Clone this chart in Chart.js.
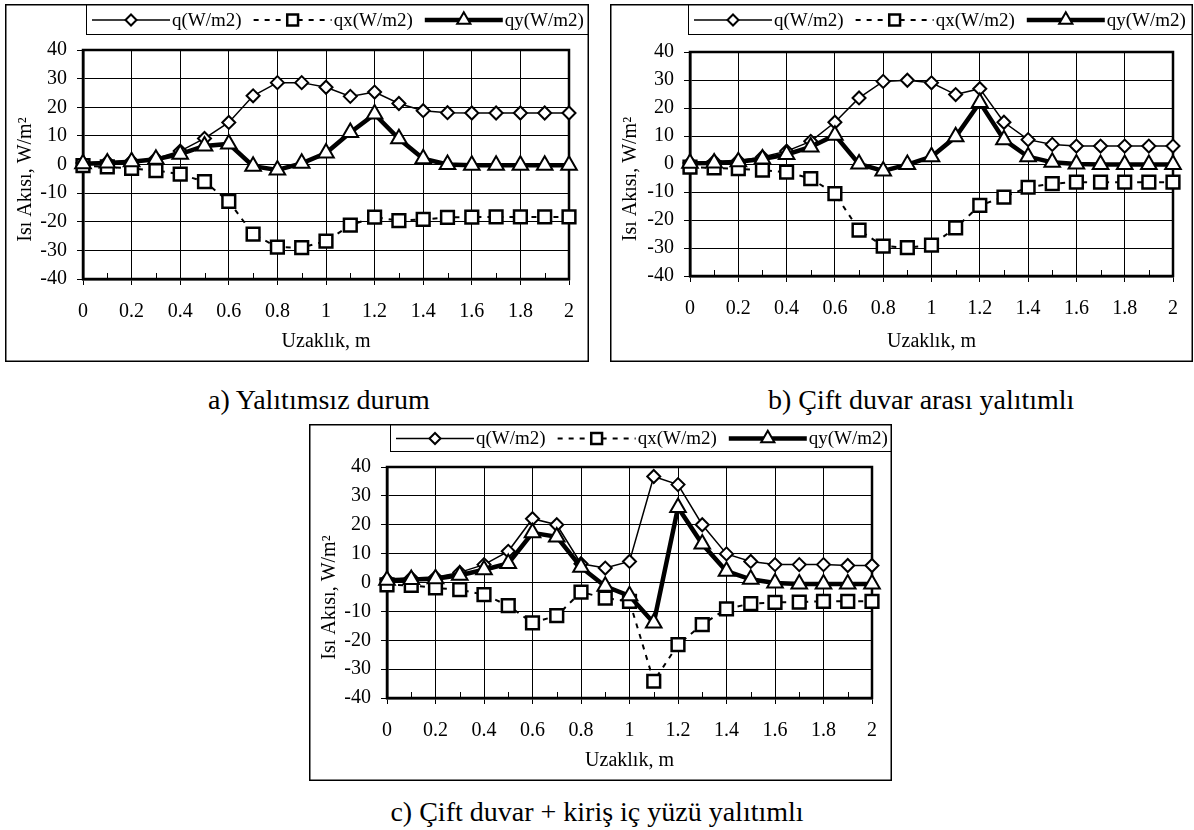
<!DOCTYPE html>
<html>
<head>
<meta charset="utf-8">
<script src="https://cdn.jsdelivr.net/npm/chart.js@4.4.1/dist/chart.umd.min.js"></script>
<style>
  body { margin: 0; width: 1194px; height: 830px; background: #fff; position: relative; overflow: hidden;
         font-family: 'Liberation Serif', 'Times New Roman', serif; }
  canvas { position: absolute; }
  .caption { position: absolute; font-size: 28px; line-height: 28px; white-space: nowrap; color: #000; }
</style>
</head>
<body>
<canvas id="chartA" width="584" height="358" style="left:5px;top:4px"></canvas>
<canvas id="chartB" width="583" height="358" style="left:610px;top:4px"></canvas>
<canvas id="chartC" width="583" height="357" style="left:309px;top:424px"></canvas>
<div class="caption" style="left:208px;top:386px">a) Yalıtımsız durum</div>
<div class="caption" style="left:768px;top:386px">b) Çift duvar arası yalıtımlı</div>
<div class="caption" style="left:0;width:1194px;text-align:center;top:798px">c) Çift duvar + kiriş iç yüzü yalıtımlı</div>

<script>
// distance along the wall, m
const distances = ['0','0.1','0.2','0.3','0.4','0.5','0.6','0.7','0.8','0.9','1',
                   '1.1','1.2','1.3','1.4','1.5','1.6','1.7','1.8','1.9','2'];

// a) Yalıtımsız durum
const qA  = [0.5, 0.9, 1.2, 2.1, 4.7, 9.1, 14.7, 24.0, 28.6, 28.6, 27.0, 23.8, 25.3, 21.3, 18.8, 18.1, 18.0, 18.0, 18.0, 18.0, 18.0];
const qxA = [-0.4, -0.8, -1.4, -2.1, -3.4, -6.0, -12.9, -24.3, -28.9, -29.0, -26.8, -21.2, -18.4, -19.6, -19.2, -18.5, -18.4, -18.3, -18.3, -18.3, -18.3];
const qyA = [0.3, 0.5, 1.0, 1.8, 3.6, 6.5, 7.2, -0.6, -1.9, 0.4, 4.0, 11.2, 17.6, 9.0, 2.0, 0.0, -0.3, -0.3, -0.3, -0.3, -0.3];

// b) Çift duvar arası yalıtımlı
const qB  = [0.4, 0.9, 1.2, 2.5, 4.6, 8.1, 14.9, 23.6, 29.5, 29.9, 29.0, 24.8, 26.9, 14.9, 8.7, 7.0, 6.4, 6.4, 6.4, 6.4, 6.4];
const qxB = [-1.1, -1.4, -1.7, -2.2, -2.9, -5.2, -10.6, -23.6, -29.3, -29.9, -29.0, -22.8, -14.8, -11.8, -8.3, -7.0, -6.5, -6.5, -6.5, -6.5, -6.5];
const qyB = [0.3, 0.4, 0.8, 1.8, 3.4, 6.1, 10.3, 0.0, -2.5, -0.2, 2.6, 9.7, 22.0, 8.7, 2.6, 0.6, 0.0, -0.2, -0.2, -0.2, -0.2];

// c) Çift duvar + kiriş iç yüzü yalıtımlı
const qC  = [1.0, 1.6, 1.8, 3.5, 6.2, 10.8, 22.1, 20.0, 6.5, 5.0, 7.3, 36.7, 33.9, 20.0, 9.9, 7.3, 6.2, 6.2, 6.2, 5.9, 5.9];
const qxC = [-0.8, -1.0, -1.9, -2.5, -4.2, -8.0, -14.0, -11.5, -3.3, -5.4, -6.5, -34.2, -21.5, -14.6, -9.1, -7.3, -6.9, -6.8, -6.5, -6.5, -6.5];
const qyC = [0.8, 1.0, 1.3, 2.5, 4.4, 6.6, 17.2, 15.8, 5.3, -1.3, -4.6, -14.0, 26.0, 13.3, 3.9, 1.1, -0.2, -0.5, -0.5, -0.5, -0.5];

const yTicks = { min: -40, max: 40, step: 10 };

const FONT = "'Liberation Serif', 'Times New Roman', serif";

const framePlugin = {
    id: 'frame',
    beforeDatasetsDraw(chart) {
        const { ctx, chartArea: a } = chart;
        const xs = chart.scales.x;
        ctx.save();
        ctx.strokeStyle = '#000';
        // small inner ticks at the unlabeled categories
        ctx.lineWidth = 1;
        ctx.beginPath();
        xs.ticks.forEach((t, i) => {
            if (i % 2) {
                const px = Math.round(xs.getPixelForTick(i)) + 0.5;
                ctx.moveTo(px, a.bottom);
                ctx.lineTo(px, a.bottom - 6);
            }
        });
        ctx.stroke();
        ctx.lineWidth = 2.5;
        ctx.strokeRect(a.left, a.top, a.right - a.left, a.bottom - a.top);
        ctx.restore();
    },
    afterDraw(chart, args, opts) {
        const { ctx, width, height } = chart;
        ctx.save();
        ctx.strokeStyle = '#000';
        ctx.lineWidth = 1.5;
        ctx.strokeRect(0.75, 0.75, width - 1.5, height - 1.5);

        // legend box with line + marker samples
        const L = opts.legendLeft, B = opts.legendBottom;
        ctx.lineWidth = 1;
        ctx.strokeRect(L + 0.5, 0.5, width - L - 1, B);
        let x = L + 6;
        const cy = B / 2 + 1;
        ctx.font = '19px ' + FONT;
        ctx.textBaseline = 'middle';
        chart.data.datasets.forEach(ds => {
            ctx.strokeStyle = '#000';
            ctx.lineWidth = ds.borderWidth;
            ctx.setLineDash(ds.borderDash || []);
            ctx.beginPath();
            ctx.moveTo(x, cy);
            ctx.lineTo(x + 78, cy);
            ctx.stroke();
            ctx.setLineDash([]);
            ctx.fillStyle = '#fff';
            ctx.lineWidth = ds.pointBorderWidth;
            Chart.helpers.drawPoint(ctx, {
                pointStyle: ds.pointStyle, rotation: 0,
                radius: ds.pointRadius * 0.85, borderWidth: ds.pointBorderWidth
            }, x + 39, cy);
            ctx.fillStyle = '#000';
            ctx.fillText(ds.label, x + 80, cy + 1);
            x += 80 + ctx.measureText(ds.label).width + 12;
        });
        ctx.restore();
    }
};

function makeChart(id, q, qx, qy, g) {
    const series = [
        { label: 'q(W/m2)', data: q, borderWidth: 1.5, pointStyle: 'rectRot', pointRadius: 6.5, pointBorderWidth: 2, order: 2 },
        { label: 'qx(W/m2)', data: qx, borderWidth: 2, borderDash: [5, 6], pointStyle: 'rect', pointRadius: 9, pointBorderWidth: 2.5, order: 1 },
        { label: 'qy(W/m2)', data: qy, borderWidth: 4.5, pointStyle: 'triangle', pointRadius: 9, pointBorderWidth: 2, order: 0 }
    ];
    series.forEach(s => {
        s.borderColor = '#000';
        s.pointBackgroundColor = '#fff';
        s.pointBorderColor = '#000';
        s.pointHoverRadius = s.pointRadius;
        s.tension = 0;
    });

    return new Chart(document.getElementById(id), {
        type: 'line',
        data: { labels: distances, datasets: series },
        plugins: [framePlugin],
        options: {
            responsive: false,
            animation: false,
            events: [],
            layout: { padding: { left: 0, top: g.top, right: g.right, bottom: 0 } },
            plugins: {
                legend: { display: false },
                tooltip: { enabled: false },
                frame: { legendLeft: g.legendLeft, legendBottom: g.legendBottom }
            },
            scales: {
                x: {
                    type: 'category',
                    offset: false,
                    grid: {
                        color: c => (c.index % 2 === 0 ? '#000' : 'rgba(0,0,0,0)'),
                        lineWidth: 1,
                        tickLength: 6
                    },
                    border: { color: '#000', width: 2.5 },
                    ticks: {
                        autoSkip: false, maxRotation: 0, color: '#000', padding: 15,
                        font: { family: FONT, size: 20 },
                        callback: function (v, i) { return i % 2 === 0 ? this.getLabelForValue(v) : ''; }
                    },
                    title: {
                        display: true, text: 'Uzaklık, m', color: '#000',
                        font: { family: FONT, size: 20 }, padding: { top: 0, bottom: 8 }
                    },
                    afterFit: s => { s.height = g.xH; }
                },
                y: {
                    min: yTicks.min, max: yTicks.max,
                    grid: { color: '#000', lineWidth: 1, tickLength: 6 },
                    border: { color: '#000', width: 2.5 },
                    ticks: {
                        stepSize: yTicks.step, color: '#000', padding: 10,
                        font: { family: FONT, size: 20 }
                    },
                    title: {
                        display: true, text: 'Isı Akısı, W/m²      ', color: '#000',
                        font: { family: FONT, size: 20 }, padding: { top: 9, bottom: 0 }
                    },
                    afterFit: s => { s.width = g.yW; }
                }
            }
        }
    });
}

makeChart('chartA', qA, qxA, qyA, { top: 46, right: 16, yW: 78, xH: 83, legendLeft: 81, legendBottom: 30 });
makeChart('chartB', qB, qxB, qyB, { top: 48, right: 17, yW: 80, xH: 86, legendLeft: 78, legendBottom: 30 });
makeChart('chartC', qC, qxC, qyC, { top: 43, right: 16, yW: 78, xH: 83, legendLeft: 81, legendBottom: 27 });
</script>
</body>
</html>
